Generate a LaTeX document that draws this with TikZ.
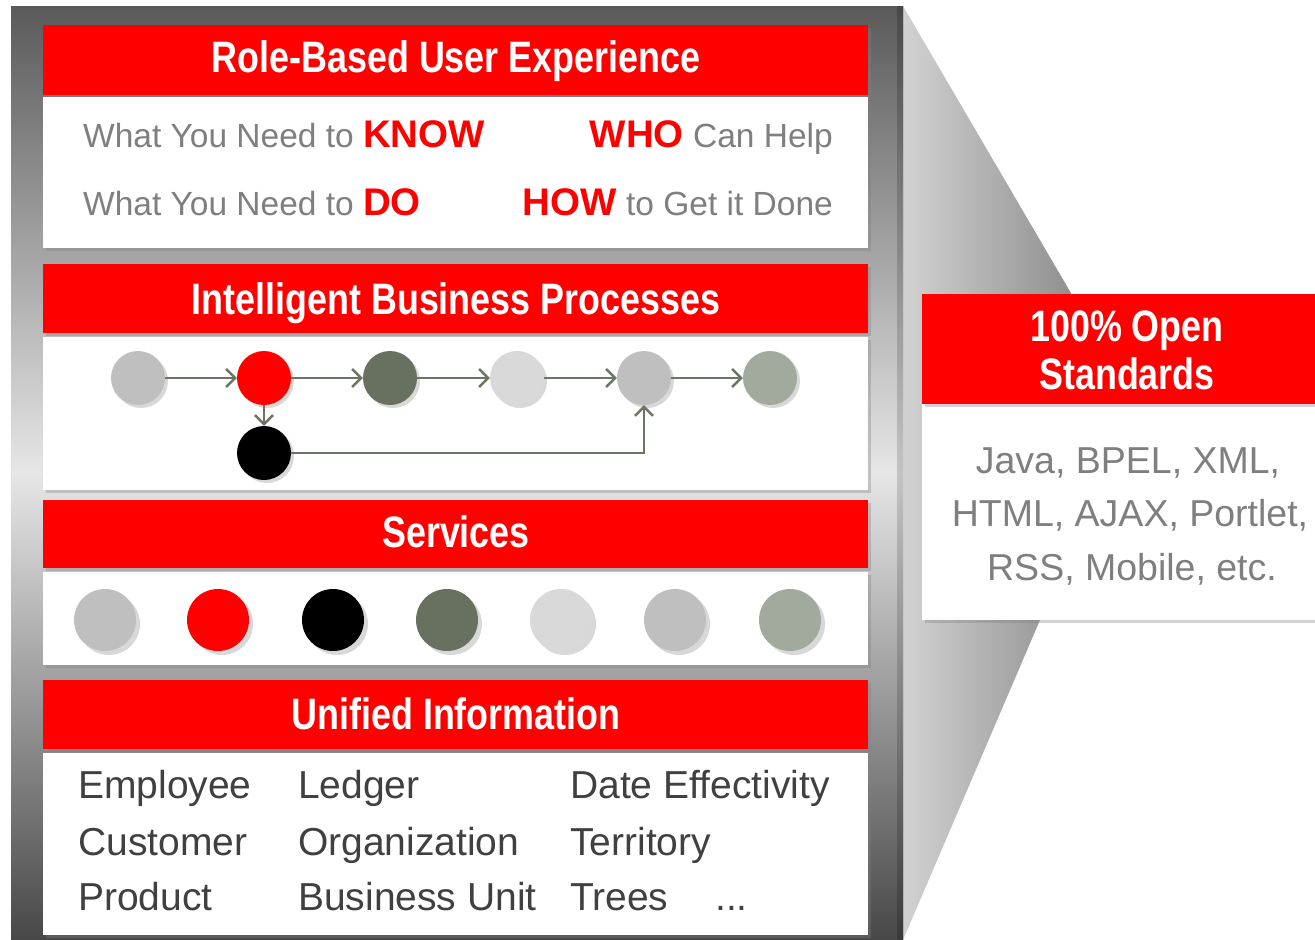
\documentclass[tikz,border=0pt]{standalone}
\usepackage{fontspec}
\setmainfont{Liberation Sans}
\newfontfamily\hdrfont[FakeStretch=0.815]{Liberation Sans Bold}
\usetikzlibrary{shadows,arrows.meta}
\definecolor{ored}{HTML}{FF0000}
\definecolor{txtgray}{HTML}{7F7F7F}
\definecolor{infogray}{HTML}{404040}
\definecolor{arrgray}{HTML}{6B7563}
\definecolor{cLight}{HTML}{BFBFBF}
\definecolor{cPale}{HTML}{D9D9D9}
\definecolor{cDark}{HTML}{687060}
\definecolor{cSage}{HTML}{A1AA9D}
\definecolor{panTop}{HTML}{5A5A5A}
\definecolor{panMid}{HTML}{E6E6E6}
\definecolor{panBot}{HTML}{484848}
\definecolor{funL}{HTML}{D2D2D2}
\definecolor{funR}{HTML}{8E8E8E}
\begin{document}
\begin{tikzpicture}[x=1pt,y=-1pt,
  hdrbox/.style={fill=ored, draw=none, inner sep=0pt, drop shadow={shadow xshift=3pt, shadow yshift=-3pt, opacity=.35}},
  bodybox/.style={fill=white, draw=none, inner sep=0pt, drop shadow={shadow xshift=3pt, shadow yshift=-3pt, opacity=.35}},
  hdrtext/.style={text=white, font=\hdrfont\fontsize{44}{48}\selectfont, inner sep=0pt, anchor=base},
  rowtext/.style={text=txtgray, font=\fontsize{33.5}{38}\selectfont, inner sep=0pt},
  infotext/.style={text=infogray, font=\fontsize{39}{42}\selectfont, inner sep=0pt, anchor=base west},
  stdtext/.style={text=txtgray, font=\fontsize{37.5}{42}\selectfont, inner sep=0pt, anchor=base},
  pcirc/.style={circle, minimum size=54pt, inner sep=0pt, draw=none, fill=#1, drop shadow={shadow xshift=3pt, shadow yshift=-3pt, opacity=.3}},
  scirc/.style={circle, minimum size=62pt, inner sep=0pt, draw=none, fill=#1, drop shadow={shadow xshift=4pt, shadow yshift=-4pt, opacity=.3}},
  flow/.style={draw=arrgray, line width=2.5pt, -{Straight Barb[length=9pt,width=18pt,line width=2.5pt]}}
]
\useasboundingbox (0,0) rectangle (1315,940);
\fill[white] (0,0) rectangle (1315,940);
% funnel
\shade[left color=funL, right color=funR] (903,6) -- (1075,300) -- (1040,620) -- (903,940) -- cycle;
% outer panel
\shade[top color=panTop, bottom color=panBot, middle color=panMid] (11,6) rectangle (903,940);
\shade[top color=panTop!80!black, bottom color=panBot!80!black, middle color=panMid!85!black] (897,6) rectangle (903,940);

% section 1
\node[hdrbox, minimum width=825pt, minimum height=70pt] (h1) at (455.5,60) {};
\node[bodybox, minimum width=825pt, minimum height=151pt] (b1) at (455.5,172.5) {};
% section 2
\node[hdrbox, minimum width=825pt, minimum height=69pt] (h2) at (455.5,298.5) {};
\node[bodybox, minimum width=825pt, minimum height=153pt] (b2) at (455.5,413.5) {};
% section 3
\node[hdrbox, minimum width=825pt, minimum height=68pt] (h3) at (455.5,534) {};
\node[bodybox, minimum width=825pt, minimum height=93pt] (b3) at (455.5,618.5) {};
% section 4
\node[hdrbox, minimum width=825pt, minimum height=69pt] (h4) at (455.5,714.5) {};
\node[bodybox, minimum width=825pt, minimum height=182pt] (b4) at (455.5,844) {};
% right box
\node[bodybox, minimum width=393pt, minimum height=326pt] (rb) at (1118.5,457) {};
\node[hdrbox, minimum width=393pt, minimum height=110pt] (rh) at (1118.5,349) {};

% header texts
\node[hdrtext] (t1) at (456,72) {Role-Based User Experience};
\node[hdrtext] (t2) at (456,314) {Intelligent Business Processes};
\node[hdrtext] (t3) at (456,547) {Services};
\node[hdrtext] (t4) at (456,729) {Unified Information};
\node[hdrtext] (t5) at (1127,341) {100\% Open};
\node[hdrtext] (t6) at (1127,389) {Standards};

% role-based rows
\node[rowtext, anchor=base west] (r1) at (83,147) {What You Need to \textcolor{ored}{\bfseries\fontsize{38.5}{40}\selectfont KNOW}};
\node[rowtext, anchor=base west] (r2) at (83,215) {What You Need to \textcolor{ored}{\bfseries\fontsize{38.5}{40}\selectfont DO}};
\node[rowtext, anchor=base east] (r3) at (833,147) {\textcolor{ored}{\bfseries\fontsize{38.5}{40}\selectfont WHO} Can Help};
\node[rowtext, anchor=base east] (r4) at (833,215) {\textcolor{ored}{\bfseries\fontsize{38.5}{40}\selectfont HOW} to Get it Done};

% process circles
\node[pcirc=cLight] (p1) at (138,378) {};
\node[pcirc=ored] (p2) at (264,378) {};
\node[pcirc=cDark] (p3) at (390,378) {};
\node[pcirc=cPale] (p4) at (517,378) {};
\node[pcirc=cLight] (p5) at (644,378) {};
\node[pcirc=cSage] (p6) at (770,378) {};
\node[pcirc=black] (p7) at (264,453) {};
\draw[flow] (p1) -- (p2);
\draw[flow] (p2) -- (p3);
\draw[flow] (p3) -- (p4);
\draw[flow] (p4) -- (p5);
\draw[flow] (p5) -- (p6);
\draw[flow] (p2) -- (p7);
\draw[flow] (p7) -| (p5);

% service circles
\node[scirc=cLight] (s1) at (105,620) {};
\node[scirc=ored] (s2) at (218,620) {};
\node[scirc=black] (s3) at (333,620) {};
\node[scirc=cDark] (s4) at (447,620) {};
\node[scirc=cPale] (s5) at (561,620) {};
\node[scirc=cLight] (s6) at (675,620) {};
\node[scirc=cSage] (s7) at (790,620) {};

% unified information
\node[infotext] (u1) at (78,798) {Employee};
\node[infotext] (u2) at (78,855) {Customer};
\node[infotext] (u3) at (78,910) {Product};
\node[infotext] (u4) at (298,798) {Ledger};
\node[infotext] (u5) at (298,855) {Organization};
\node[infotext] (u6) at (298,910) {Business Unit};
\node[infotext] (u7) at (570,798) {Date Effectivity};
\node[infotext] (u8) at (570,855) {Territory};
\node[infotext] (u9) at (570,910) {Trees};
\node[infotext] (u10) at (715,910) {...};

% standards
\node[stdtext] (o1) at (1128,473) {Java, BPEL, XML,};
\node[stdtext] (o2) at (1130,526) {HTML, AJAX, Portlet,};
\node[stdtext] (o3) at (1132,580) {RSS, Mobile, etc.};
\end{tikzpicture}
\end{document}
